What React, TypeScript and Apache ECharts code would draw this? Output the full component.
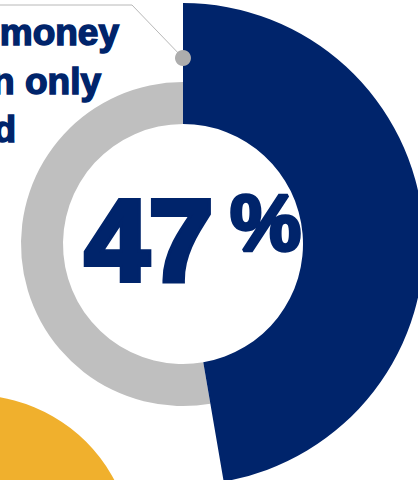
import React, { useEffect, useRef } from "react";
import * as echarts from "echarts";

const sliceNames = ["Share", "Rest"];
const sliceValues = [47.3, 52.7];
const otherNames = ["Other"];
const otherValues = [100];
const calloutLines = ["money", "n only", "d"];
const bigValue = "47";
const bigUnit = "%";

const NAVY = "#00246B";
const GRAY = "#BFBFBF";
const YELLOW = "#F0B02D";

export default function App() {
  const ref = useRef<HTMLDivElement>(null);
  useEffect(() => {
    document.body.style.margin = "0";
    const chart = echarts.init(ref.current!, undefined, { renderer: "svg" });
    const font = "'Liberation Sans', Arial, sans-serif";
    const lineBaselines = [45, 94, 142];
    const lineRight = [119, 101, 16];
    const option: any = {
      animation: false,
      series: [
        {
          type: "pie",
          silent: true,
          center: [183, 244],
          radius: [120, 241],
          startAngle: 90,
          clockwise: true,
          label: { show: false },
          labelLine: { show: false },
          data: sliceNames.map((n, i) => ({
            name: n,
            value: sliceValues[i],
            itemStyle: { color: i === 0 ? NAVY : "rgba(0,0,0,0)" },
          })),
          z: 3,
        },
        {
          type: "pie",
          silent: true,
          center: [183, 244],
          radius: [120, 162],
          startAngle: 90,
          clockwise: true,
          label: { show: false },
          labelLine: { show: false },
          data: sliceNames.map((n, i) => ({
            name: n,
            value: sliceValues[i],
            itemStyle: { color: i === 0 ? "rgba(0,0,0,0)" : GRAY },
          })),
          z: 2,
        },
        {
          type: "pie",
          silent: true,
          center: [-27, 555],
          radius: [0, 160],
          label: { show: false },
          labelLine: { show: false },
          data: otherNames.map((n, i) => ({
            name: n,
            value: otherValues[i],
            itemStyle: { color: YELLOW },
          })),
          z: 2,
        },
      ],
      graphic: [
        {
          type: "polyline",
          z: 100,
          shape: { points: [[0, 5], [132, 5], [183, 58]] },
          style: { stroke: "#B8B8B8", lineWidth: 1, fill: null },
        },
        {
          type: "circle",
          z: 101,
          shape: { cx: 183, cy: 58, r: 8 },
          style: { fill: "#ADADAD" },
        },
        ...calloutLines.map((t, i) => ({
          type: "text",
          z: 100,
          style: {
            text: t,
            x: lineRight[i],
            y: lineBaselines[i] - 37 * 0.3465,
            align: "right",
            verticalAlign: "middle",
            font: `bold 37px ${font}`,
            fill: NAVY,
            stroke: NAVY,
            lineWidth: 1.5,
          },
        })),
        {
          type: "text",
          z: 100,
          style: {
            text: bigValue,
            x: 85,
            y: 280 - 115 * 0.3465,
            align: "left",
            verticalAlign: "middle",
            font: `bold 115px ${font}`,
            fill: NAVY,
            stroke: NAVY,
            lineWidth: 6,
          },
        },
        {
          type: "text",
          z: 100,
          style: {
            text: bigUnit,
            x: 230,
            y: 250 - 80 * 0.3465,
            align: "left",
            verticalAlign: "middle",
            font: `bold 80px ${font}`,
            fill: NAVY,
            stroke: NAVY,
            lineWidth: 3.5,
          },
        },
      ],
    };
    chart.setOption(option);
    return () => chart.dispose();
  }, []);
  return (
    <div
      ref={ref}
      style={{ position: "fixed", left: 0, top: 0, width: 418, height: 480, background: "#fff" }}
    />
  );
}
